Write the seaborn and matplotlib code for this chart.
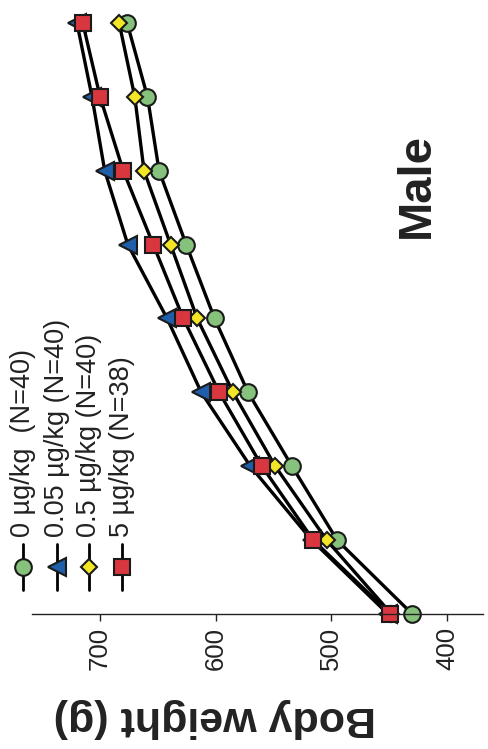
import matplotlib
matplotlib.use("Agg")
import matplotlib.pyplot as plt
import seaborn as sns
import pandas as pd
from matplotlib.lines import Line2D

# ---- data (body weight in g at successive time points) ----
time_point = [0, 1, 2, 3, 4, 5, 6, 7, 8]
dose_labels = ["0 \u00b5g/kg  (N=40)", "0.05 \u00b5g/kg (N=40)",
               "0.5 \u00b5g/kg (N=40)", "5 \u00b5g/kg (N=38)"]
bw_0 = [430, 495, 534, 572, 601, 625.5, 649, 659, 676.6]
bw_005 = [451, 517, 570, 612.5, 642, 676, 696, 707, 720]
bw_05 = [448, 504, 548.5, 585, 616, 639, 662, 670, 683.5]
bw_5 = [449, 515.6, 560, 597, 628, 654, 680, 700, 715]
weight_ticks = [700, 600, 500, 400]

series = [bw_0, bw_005, bw_05, bw_5]
markers = ["o", "<", "D", "s"]
msizes = [12, 12.5, 8, 12]
fills = ["#86c27c", "#1f5ea8", "#f2e626", "#d9373f"]

sns.set_style("white")
plt.rcParams["font.family"] = ["Liberation Sans", "DejaVu Sans"]

W, H = 488, 749
fig = plt.figure(figsize=(W / 100, H / 100), dpi=100)
ax = fig.add_axes([32 / W, (H - 614) / H, 451 / W, 614 / H])

for vals, lab, m, ms, fc in zip(series, dose_labels, markers, msizes, fills):
    df = pd.DataFrame({"weight": vals, "time": time_point})
    sns.lineplot(data=df, x="weight", y="time", sort=False, estimator=None,
                 ax=ax, color="black", lw=2.4, marker=m, markersize=ms,
                 markerfacecolor=fc, markeredgecolor="#1a1a1a",
                 markeredgewidth=1.5, clip_on=False, legend=False)

ax.set_xlim(758.9, 368.8)
ax.set_ylim(0, 8.311)
ax.set_xticks(weight_ticks)
ax.set_xticklabels([str(t) for t in weight_ticks], rotation=90, fontsize=18.5)
ax.set_yticks([])
ax.tick_params(axis="x", direction="out", length=5, width=1, pad=4,
               colors="#222222", bottom=True)
for s in ["top", "right", "left"]:
    ax.spines[s].set_visible(False)
ax.spines["bottom"].set_color("#222222")
ax.spines["bottom"].set_linewidth(1)
ax.set_xlabel("")
ax.set_ylabel("")

# axis title (upside down, as in the rotated reference)
fig.text(215 / W, 1 - 718 / H, "Body weight (g)", rotation=180, fontsize=31,
         fontweight="bold", ha="center", va="center", color="#222222")
fig.text(417 / W, 1 - 186 / H, "Male", rotation=90, fontsize=34,
         fontweight="bold", ha="center", va="center", color="#222222")

# legend drawn as vertical entries
leg_x = [23, 57, 89, 122]
for lx, lab, m, ms, fc in zip(leg_x, dose_labels, markers, msizes, fills):
    fig.add_artist(Line2D([lx / W, lx / W], [1 - 544 / H, 1 - 590 / H],
                          transform=fig.transFigure, color="black", lw=2.0))
    fig.add_artist(Line2D([lx / W], [1 - 567 / H], transform=fig.transFigure,
                          marker=m, markersize=ms, markerfacecolor=fc,
                          markeredgecolor="#1a1a1a", markeredgewidth=1.5,
                          linestyle="none"))
    fig.text(lx / W, 1 - 537 / H, lab, rotation=90, fontsize=19.5,
             ha="center", va="bottom", color="#222222")

fig.savefig("out.png", dpi=100)
